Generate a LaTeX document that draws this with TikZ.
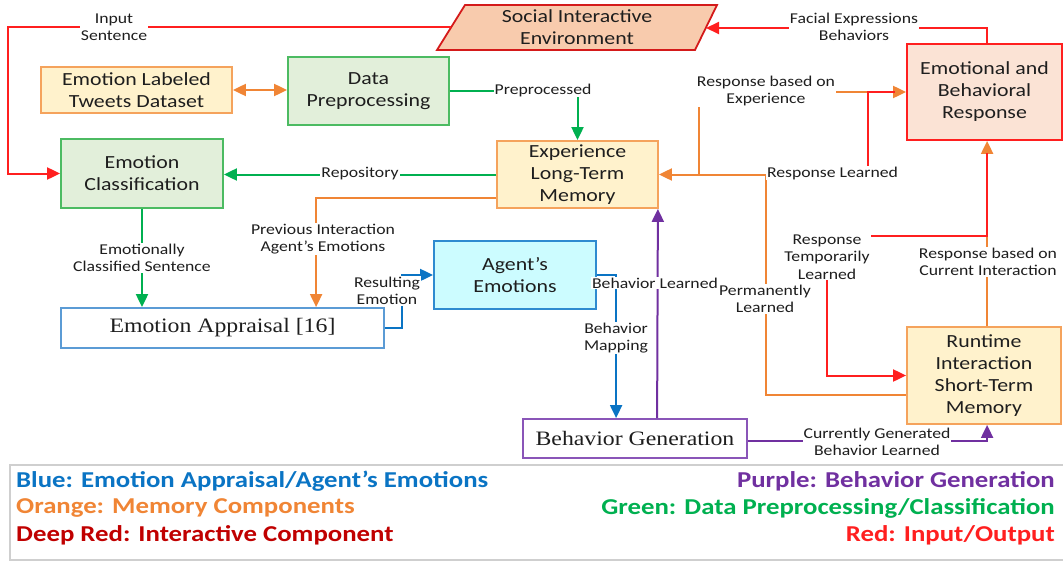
\documentclass[tikz,border=0pt]{standalone}
\usepackage{fontspec}
\setmainfont{Carlito}[FakeStretch=1.18]
\newfontfamily\seriffont{Liberation Serif}[FakeStretch=1.16]
\usetikzlibrary{arrows.meta,calc}
\definecolor{txt}{HTML}{1E1E1E}
\definecolor{cred}{HTML}{FF1F1F}
\definecolor{cor}{HTML}{F08535}
\definecolor{cgreen}{HTML}{00B050}
\definecolor{cblue}{HTML}{0A74C4}
\definecolor{cpurple}{HTML}{7030A0}
\definecolor{ldeep}{HTML}{C00000}
\definecolor{greenfill}{HTML}{E2EFDA}
\definecolor{greenline}{HTML}{4CBB62}
\definecolor{yelfill}{HTML}{FFF2CC}
\definecolor{orline}{HTML}{F5A35C}
\definecolor{peach}{HTML}{F8CBAD}
\definecolor{peachlight}{HTML}{FBE3D5}
\definecolor{sieline}{HTML}{D41A1A}
\definecolor{cyanfill}{HTML}{CCFCFF}
\definecolor{aeline}{HTML}{2E8BD0}
\definecolor{ealine}{HTML}{5B9BD5}
\definecolor{bgline}{HTML}{8A55B8}
\definecolor{legline}{HTML}{CFCFCF}
\begin{document}
\begin{tikzpicture}[x=1pt,y=-1pt,
  box/.style={draw, line width=1.8pt, inner sep=0pt, align=center, text=txt, font=\fontsize{18.5}{22}\selectfont},
  lbl/.style={fill=white, inner sep=1pt, align=center, text=txt, font=\fontsize{15}{17.5}\selectfont},
  ln/.style={line width=2pt},
  conn/.style={line width=2pt, -{Triangle[length=13pt,width=12pt]}},
  legtxt/.style={inner sep=0pt, font=\fontsize{22.7}{26}\bfseries\selectfont}]
\useasboundingbox (0,0) rectangle (1063,562);

% boxes
\draw[line width=1.8pt, draw=sieline, fill=peach] (437,50) -- (465,5) -- (717,5) -- (695,50) -- cycle;
\node[align=center, text=txt, font=\fontsize{18.5}{22}\selectfont] (SIE) at (577,27) {Social Interactive\\Environment};
\coordinate (sieL) at (451,27);
\coordinate (sieR) at (706,28);

\node[box, draw=orline, fill=yelfill, minimum width=191pt, minimum height=46pt] (ELT) at (136.5,90) {Emotion Labeled\\Tweets Dataset};
\node[box, draw=greenline, fill=greenfill, minimum width=161pt, minimum height=68pt] (DP) at (368.5,91) {Data\\Preprocessing};
\node[box, draw=greenline, fill=greenfill, minimum width=162pt, minimum height=69pt] (EC) at (142,173.5) {Emotion\\Classification};
\node[box, draw=orline, fill=yelfill, minimum width=161pt, minimum height=67pt] (EXP) at (577.5,174.5) {Experience\\Long-Term\\Memory};
\node[box, draw=cred, fill=peachlight, minimum width=155pt, minimum height=96pt] (EBR) at (984.5,92) {Emotional and\\Behavioral\\Response};
\node[box, draw=aeline, fill=cyanfill, minimum width=162pt, minimum height=68pt] (AE) at (515,275) {Agent’s\\Emotions};
\node[box, draw=ealine, fill=white, minimum width=323pt, minimum height=40pt, font=\seriffont\fontsize{20.5}{24}\selectfont] (EA) at (222.5,328) {Emotion Appraisal [16]};
\node[box, draw=bgline, fill=white, minimum width=224pt, minimum height=39pt, font=\seriffont\fontsize{20.5}{24}\selectfont] (BG) at (635,438.5) {Behavior Generation};
\node[box, draw=orline, fill=yelfill, minimum width=154pt, minimum height=97pt] (RT) at (984,375.5) {Runtime\\Interaction\\Short-Term\\Memory};

% connectors
\draw[conn, cred] (sieL) -- (8,27) |- (EC.west);
\draw[ln, cor, {Triangle[length=13pt,width=12pt]}-{Triangle[length=13pt,width=12pt]}] (ELT.east) -- (ELT.east -| DP.west);
\draw[conn, cgreen] (DP.east) -| (EXP.north);
\draw[conn, cgreen] (EXP.west) -- (EXP.west -| EC.east);
\draw[conn, cor] ($(EXP.west)+(0,23.5)$) -| ($(EA.north west)+(256,0)$);
\draw[conn, cgreen] (EC.south) -- (EC.south |- EA.north);
\draw[conn, cblue] (EA.east) -- ++(17,0) |- (AE.west);
\draw[conn, cblue] (AE.east) -| ($(BG.north west)+(94,0)$);
\draw[conn, cpurple] ($(BG.north west)+(135,0)$) -- ($(EXP.south east)+(-1,0)$);
\draw[conn, cor] ($(RT.west)+(0,19.5)$) -| ($(EXP.east)+(107,0)$) -- (EXP.east);
\draw[conn, cor] ($(EXP.east)+(40,0)$) |- (EBR.west);
\draw[ln, cred] ($(EXP.east)+(209,-1)$) |- ($(EBR.west)+(-11,0)$);
\draw[conn, cred] ($(EBR.north west)+(81,0)$) |- (sieR);
\draw[conn, cor] ($(RT.north west)+(81,0)$) -- ($(EBR.south west)+(81,0)$);
\draw[conn, cred] ($(EBR.south west)+(81,12)$) |- (827,236) |- (RT.west);
\draw[conn, cpurple] ($(BG.east)+(0,2)$) -| ($(RT.south west)+(81,0)$);

% labels
\node[lbl] (l1) at (114,27) {Input\\Sentence};
\node[lbl, inner ysep=1.5pt] (l2) at (854,27) {Facial Expressions\\Behaviors};
\node[lbl] (l3) at (543,90) {Preprocessed};
\node[lbl] (l4) at (766,91) {Response based on\\Experience};
\node[lbl] (l5) at (360,174) {Repository};
\node[lbl] (l6) at (832.5,173) {Response Learned};
\node[lbl] (l7) at (142,258) {Emotionally\\Classified Sentence};
\node[lbl] (l8) at (323,239) {Previous Interaction\\Agent’s Emotions};
\node[lbl] (l9) at (387,291) {Resulting\\Emotion};
\node[lbl] (l10) at (655,283) {Behavior Learned};
\node[lbl] (l11) at (765,299) {Permanently\\Learned};
\node[lbl] (l12) at (827,257) {Response\\Temporarily\\Learned};
\node[lbl] (l13) at (988,262) {Response based on\\Current Interaction};
\node[lbl] (l14) at (616,338) {Behavior\\Mapping};
\node[lbl] (l15) at (877,442) {Currently Generated\\Behavior Learned};

% legend
\draw[line width=2.5pt, legline] (1063,465) -- (10,465) -- (10,560) -- (1063,560);
\node[legtxt, anchor=west, text=cblue] (g1) at (16,481) {Blue: Emotion Appraisal/Agent’s Emotions};
\node[legtxt, anchor=west, text=cor] (g2) at (16,508) {Orange: Memory Components};
\node[legtxt, anchor=west, text=ldeep] (g3) at (16,535) {Deep Red: Interactive Component};
\node[legtxt, anchor=east, text=cpurple] (g4) at (1055,481) {Purple: Behavior Generation};
\node[legtxt, anchor=east, text=cgreen] (g5) at (1055,508) {Green: Data Preprocessing/Classification};
\node[legtxt, anchor=east, text=cred] (g6) at (1055,535) {Red: Input/Output};
\end{tikzpicture}
\end{document}
